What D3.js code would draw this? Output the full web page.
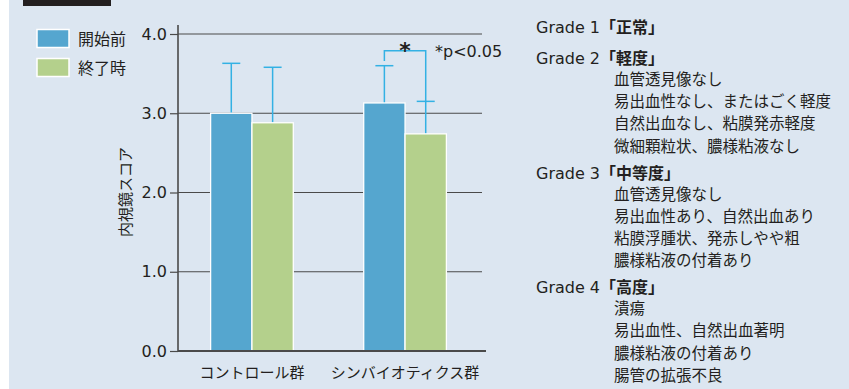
<!DOCTYPE html>
<html><head><meta charset="utf-8">
<script src="https://cdn.jsdelivr.net/npm/d3@7"></script>
<style>
html,body{margin:0;padding:0;background:#fff;}
svg{display:block;}
</style></head>
<body>
<svg id="c" width="849" height="389"></svg>
<script>
// ---- data ----
const groups = ["コントロール群", "シンバイオティクス群"];
const seriesNames = ["開始前", "終了時"];
const meanBefore = [3.00, 3.13];
const meanAfter = [2.88, 2.74];
const sdBefore = [0.63, 0.47];
const sdAfter = [0.70, 0.41];
const yTicks = [0, 1, 2, 3, 4];
const sigGroup = "シンバイオティクス群";
const sigLevel = 3.79;
const sigLegBottom = 3.66;
const sigMark = "*";
const sigNote = "*p<0.05";
const yTitle = "内視鏡スコア";
const gradeLabels = ["Grade 1", "Grade 2", "Grade 3", "Grade 4"];
const gradeNames = ["「正常」", "「軽度」", "「中等度」", "「高度」"];
const gradeLines = [
  [],
  ["血管透見像なし", "易出血性なし、またはごく軽度", "自然出血なし、粘膜発赤軽度", "微細顆粒状、膿様粘液なし"],
  ["血管透見像なし", "易出血性あり、自然出血あり", "粘膜浮腫状、発赤しやや粗", "膿様粘液の付着あり"],
  ["潰瘍", "易出血性、自然出血著明", "膿様粘液の付着あり", "腸管の拡張不良"]
];

// ---- drawing ----
const svg = d3.select("#c");
const C = { bg: "#dce6f1", blue: "#55a6cf", green: "#b4d08c", err: "#33b1e4", axis: "#4a4a4a", text: "#231f20" };
const cjk = "'Noto Sans CJK JP', sans-serif";
const lat = "'DejaVu Sans', sans-serif";

svg.append("rect").attr("width", 849).attr("height", 389).attr("fill", "#fff");
svg.append("rect").attr("x", 9).attr("width", 840).attr("height", 389).attr("fill", C.bg);
svg.append("rect").attr("x", 23).attr("y", 0).attr("width", 88).attr("height", 6).attr("fill", "#231f20");

const y = d3.scaleLinear().domain([0, 4]).range([351, 34]);
const x0 = d3.scaleBand().domain(groups).range([180, 477]).paddingInner(0.46).paddingOuter(0.2);
const x1 = d3.scaleBand().domain(seriesNames).range([0, x0.bandwidth()]);
const color = d3.scaleOrdinal().domain(seriesNames).range([C.blue, C.green]);

// gridlines
svg.append("g").selectAll("line").data(yTicks.filter(d => d > 0)).join("line")
  .attr("x1", 178).attr("x2", 482).attr("y1", d => y(d)).attr("y2", d => y(d))
  .attr("stroke", C.axis).attr("stroke-width", 1.2);

// y axis
const yAxis = d3.axisLeft(y).tickValues(yTicks).tickFormat(d3.format(".1f")).tickSize(8).tickPadding(3);
const ga = svg.append("g").attr("transform", "translate(178,0)").call(yAxis);
ga.select(".domain").remove();
ga.selectAll(".tick line").attr("stroke", C.axis).attr("stroke-width", 1.2);
ga.selectAll(".tick text").attr("font-family", lat).attr("font-size", 16).attr("fill", C.text);
svg.append("line").attr("x1", 178).attr("x2", 178).attr("y1", 25).attr("y2", y(0) + 1)
  .attr("stroke", C.axis).attr("stroke-width", 1.6);

// data rows
const rows = [];
groups.forEach((g, i) => {
  rows.push({ g, s: seriesNames[0], v: meanBefore[i], e: sdBefore[i] });
  rows.push({ g, s: seriesNames[1], v: meanAfter[i], e: sdAfter[i] });
});
const cx = d => x0(d.g) + x1(d.s) + x1.bandwidth() / 2;

// error bars (drawn before bars, only the upper half shows)
const eb = svg.append("g").attr("stroke", C.err).attr("stroke-width", 1.5).attr("fill", "none");
rows.forEach(d => {
  eb.append("line").attr("x1", cx(d)).attr("x2", cx(d)).attr("y1", y(d.v)).attr("y2", y(d.v + d.e));
  eb.append("line").attr("x1", cx(d) - 9).attr("x2", cx(d) + 9).attr("y1", y(d.v + d.e)).attr("y2", y(d.v + d.e));
});

// bars
svg.append("g").selectAll("rect").data(rows).join("rect")
  .attr("x", d => x0(d.g) + x1(d.s))
  .attr("y", d => y(d.v))
  .attr("width", x1.bandwidth())
  .attr("height", d => y(0) - y(d.v))
  .attr("fill", d => color(d.s))
  .attr("stroke", "#fff").attr("stroke-width", 1.3);

// x axis baseline
svg.append("line").attr("x1", 178).attr("x2", 486).attr("y1", y(0)).attr("y2", y(0))
  .attr("stroke", C.axis).attr("stroke-width", 2);

// x labels
svg.append("g").selectAll("text").data(groups).join("text")
  .attr("x", d => x0(d) + x0.bandwidth() / 2).attr("y", 377.5)
  .attr("text-anchor", "middle").attr("font-family", cjk).attr("font-size", 15).attr("fill", C.text)
  .text(d => d);

// significance bracket
const sr = rows.filter(d => d.g === sigGroup);
const xa = cx(sr[0]), xb = cx(sr[1]);
svg.append("path")
  .attr("d", `M${xa},${y(sigLegBottom)}V${y(sigLevel)}H${xb}V${y(sr[1].v + sr[1].e)}`)
  .attr("fill", "none").attr("stroke", C.err).attr("stroke-width", 1.5);
svg.append("text").attr("x", (xa + xb) / 2).attr("y", y(sigLevel) + 7)
  .attr("text-anchor", "middle").attr("font-family", lat).attr("font-weight", "bold")
  .attr("font-size", 22).attr("fill", C.text).text(sigMark);
svg.append("text").attr("x", 435).attr("y", 56.5)
  .attr("font-family", lat).attr("font-size", 16).attr("fill", C.text).text(sigNote);

// y title
svg.append("text").attr("transform", "translate(131,192) rotate(-90)")
  .attr("text-anchor", "middle").attr("font-family", cjk).attr("font-size", 15).attr("fill", C.text)
  .text(yTitle);

// legend
const lg = svg.append("g");
seriesNames.forEach((s, i) => {
  lg.append("rect").attr("x", 37).attr("y", 29.5 + i * 29).attr("width", 32).attr("height", 18)
    .attr("fill", color(s)).attr("stroke", "#fff").attr("stroke-width", 1.5);
  lg.append("text").attr("x", 78).attr("y", 44.5 + i * 29)
    .attr("font-family", cjk).attr("font-size", 16).attr("fill", C.text).text(s);
});

// grade descriptions
const gt = svg.append("g").attr("fill", C.text);
let cur = 33;
gradeLabels.forEach((g, i) => {
  if (i > 0) cur += gradeLines[i - 1].length ? 27 : 31;
  const t = gt.append("text").attr("x", 536).attr("y", cur).attr("font-size", 16);
  t.append("tspan").attr("font-family", lat).text(g);
  t.append("tspan").attr("font-family", cjk).attr("font-weight", 700).attr("font-size", 16).text(gradeNames[i]);
  gradeLines[i].forEach((l, j) => {
    cur += j === 0 ? 21 : 22.2;
    gt.append("text").attr("x", 614).attr("y", cur).attr("font-family", cjk).attr("font-size", 15.5).text(l);
  });
});
</script>
</body></html>
